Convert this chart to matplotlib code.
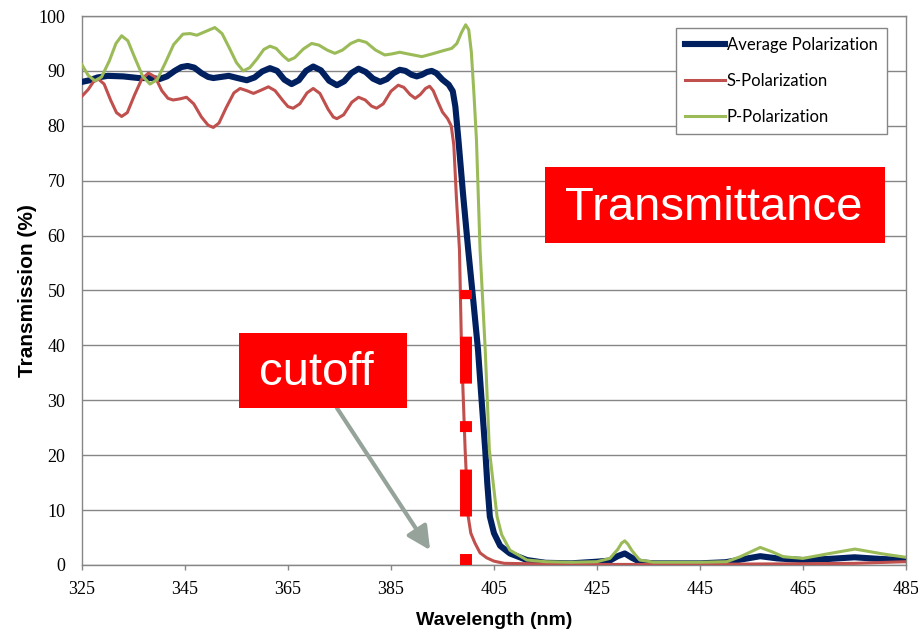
import matplotlib
matplotlib.use('Agg')
import matplotlib.pyplot as plt
from matplotlib.patches import Rectangle

plt.rcParams['lines.scale_dashes'] = False

# Average polarization
avg_nm = [325, 326.5, 328, 330, 333, 336, 338.5, 340, 341.5, 343, 344.3, 345.5, 346.8, 348.2,
          349.5, 350.5, 352, 353.5, 355.2, 357, 358.5, 360, 361.5, 362.9, 364.3, 365.7, 367.1,
          368.5, 369.9, 371.4, 373, 374.5, 375.9, 377.3, 378.7, 380.1, 381.5, 382.9, 384.2,
          385.5, 386.7, 387.8, 389, 390, 391, 392, 392.9, 393.8, 395, 396.2, 397, 397.5,
          398.1, 399.0, 400.0, 401.0, 401.9, 402.6, 403.3, 403.7, 404.2, 405, 406.2, 408.1,
          411.4, 415, 420, 425, 427.5, 429, 430.4, 431.8, 433.5, 436, 445, 450, 453, 456.7,
          460, 465, 470, 475, 480, 485]
avg_t = [88.0, 88.3, 88.8, 89.1, 89.0, 88.7, 88.7, 88.5, 89.0, 90.0, 90.7, 90.9, 90.6, 89.6,
         88.9, 88.7, 88.9, 89.1, 88.7, 88.3, 88.8, 89.9, 90.5, 90.0, 88.4, 87.6, 88.3,
         90.0, 90.8, 90.1, 88.2, 87.4, 88.1, 89.6, 90.4, 89.8, 88.6, 88.0, 88.5,
         89.6, 90.2, 90.0, 89.3, 89.0, 89.3, 89.8, 90.0, 89.6, 88.4, 87.5, 86.3, 83.5,
         77.4, 67.5, 57.4, 48.0, 39.2, 30.0, 21.0, 14.9, 8.8, 5.8, 3.5, 2.1,
         0.9, 0.4, 0.3, 0.6, 0.8, 1.6, 2.1, 1.3, 0.5, 0.3, 0.3, 0.5, 1.0, 1.6,
         1.2, 0.9, 1.1, 1.4, 1.1, 0.9]

# S-polarization
s_nm = [325, 326.2, 327.2, 328.2, 329.3, 330.6, 331.7, 332.7, 333.8, 335.2, 336.6, 337.9,
        339.2, 340.5, 341.7, 342.7, 344, 345.3, 346.7, 348.2, 349.5, 350.5, 351.6, 353,
        354.5, 355.7, 357, 358.3, 359.8, 361.2, 362.5, 364, 365, 366, 367.3, 368.7, 369.9,
        371.2, 372.8, 373.8, 374.5, 375.8, 377.4, 378.7, 380, 381.2, 382.2, 383.5, 385,
        386.4, 387.5, 388.7, 389.7, 390.7, 391.7, 392.5, 393.2, 394, 395, 396, 396.7,
        397.2, 397.7, 398.3, 398.7, 399.4, 400.0, 400.5, 401.3, 402.3, 403.6, 405,
        407, 420, 440, 460, 475, 485]
s_t = [85.4, 86.6, 88.0, 88.5, 87.6, 84.6, 82.4, 81.7, 82.4, 85.6, 88.5, 89.6,
       88.9, 86.4, 85.0, 84.7, 84.9, 85.2, 84.0, 81.6, 80.1, 79.7, 80.5, 83.3,
       86.0, 86.8, 86.4, 85.9, 86.5, 87.1, 86.4, 84.6, 83.5, 83.2, 84.0, 86.0, 86.8,
       85.9, 83.0, 81.6, 81.3, 82.0, 84.3, 85.2, 84.7, 83.6, 83.2, 84.0, 86.3,
       87.4, 87.0, 85.7, 85.0, 85.7, 86.8, 87.2, 86.4, 84.6, 82.5, 81.3, 80.0,
       76.5, 67.0, 57.4, 39.2, 21.0, 8.8, 5.8, 4.0, 2.2, 1.3, 0.7,
       0.3, 0.1, 0.1, 0.2, 0.3, 0.6]

# P-polarization
p_nm = [325, 326.2, 327.5, 328.8, 330.3, 331.6, 332.7, 333.9, 335.3, 336.8, 338.2, 339.6,
        341.2, 342.8, 344.6, 346, 347.3, 348.8, 350.8, 352.2, 353.6, 355, 356.3, 357.6,
        359, 360.3, 361.5, 362.7, 364, 365.1, 366.3, 368, 369.6, 371, 372.6, 374.1, 375.6,
        377.2, 378.7, 380.2, 382, 383.8, 385.2, 386.7, 388.8, 391, 393, 395.2, 396.8,
        397.8, 398.7, 399.5, 400.1, 400.6, 401.1, 401.6, 402.3, 403.3, 404.1, 405.6,
        406.5, 408.1, 411.4, 415, 420, 425, 427.5, 429, 429.8, 430.4, 431, 431.8, 433.3,
        436, 445, 450.2, 452.8, 456.7, 459, 461.2, 465, 470.2, 475.1, 480.6, 485]
p_t = [91.1, 89.2, 88.2, 88.9, 91.8, 95.0, 96.4, 95.5, 92.3, 89.0, 87.6, 88.4,
       91.5, 94.8, 96.7, 96.8, 96.5, 97.1, 97.9, 96.8, 94.2, 91.5, 90.0, 90.6,
       92.2, 93.9, 94.5, 94.1, 92.8, 91.9, 92.4, 94.0, 95.0, 94.7, 93.8, 93.2, 93.8,
       95.0, 95.6, 95.2, 93.8, 92.9, 93.1, 93.4, 93.0, 92.6, 93.1, 93.7, 94.1,
       95.0, 97.0, 98.4, 97.5, 93.5, 86.0, 77.4, 57.4, 39.2, 21.0, 8.8,
       5.5, 2.7, 0.9, 0.6, 0.5, 0.6, 1.2, 2.8, 4.0, 4.4, 3.8, 2.6, 0.9,
       0.5, 0.5, 0.6, 1.5, 3.2, 2.4, 1.5, 1.2, 2.1, 2.9, 2.0, 1.4]

x_ticks = list(range(325, 486, 20))
y_ticks = list(range(0, 101, 10))
cutoff_nm = 399.5
cutoff_top = 50
arrow_from = (374.5, 28.6)
arrow_to = (392.6, 2.7)

fig = plt.figure(figsize=(9.18, 6.3), dpi=100)
ax = fig.add_axes([0.0893, 0.1032, 0.8976, 0.8714])

ax.plot(avg_nm, avg_t, color='#002060', lw=4.4, label='Average Polarization', zorder=3,
        solid_joinstyle='round')
ax.plot(s_nm, s_t, color='#C0504D', lw=2.2, label='S-Polarization', zorder=4,
        solid_joinstyle='round')
ax.plot(p_nm, p_t, color='#9BBB59', lw=2.2, label='P-Polarization', zorder=5,
        solid_joinstyle='round')

# cutoff marker
ax.plot([cutoff_nm, cutoff_nm], [0, cutoff_top], color='#FF0000', lw=8.6,
        dashes=[7.9, 27, 33.8, 27], solid_capstyle='butt', dash_capstyle='butt',
        zorder=6, clip_on=False)

ax.set_xlim(325, 485)
ax.set_ylim(0, 100)
ax.set_xticks(x_ticks)
ax.set_yticks(y_ticks)
ax.grid(axis='y', color='#868686', lw=1.0)
ax.set_axisbelow(True)
for side in ['left', 'right', 'top', 'bottom']:
    ax.spines[side].set_color('#868686')
    ax.spines[side].set_linewidth(1.0)
ax.tick_params(axis='x', direction='out', length=3.6, width=1.0, color='#868686', pad=8)
ax.tick_params(axis='y', length=0, pad=12)
for lab in ax.get_xticklabels() + ax.get_yticklabels():
    lab.set_family('Liberation Serif')
    lab.set_fontsize(13)

ax.set_xlabel('Wavelength (nm)', family='Liberation Sans', fontsize=14, fontweight='bold',
              labelpad=10)
ax.set_ylabel('Transmission (%)', family='Liberation Sans', fontsize=15, fontweight='bold',
              labelpad=1)

leg = ax.legend(loc='upper right', bbox_to_anchor=(0.977, 0.978), borderaxespad=0,
                fancybox=False, framealpha=1, edgecolor='#868686',
                prop={'family': 'Lato', 'size': 12},
                handlelength=2.4, handletextpad=0.1, labelspacing=1.18, borderpad=0.55)
leg.get_frame().set_linewidth(1.0)

# arrow pointing at the cutoff
ax.annotate('', xy=arrow_to, xytext=arrow_from,
            arrowprops=dict(arrowstyle='-|>,head_length=0.7,head_width=0.35', color='#95A39A',
                            lw=3, mutation_scale=20, shrinkA=0, shrinkB=0), zorder=7)

# red label boxes
fig.patches.append(Rectangle((0.5937, 0.6143), 0.3704, 0.1206, transform=fig.transFigure,
                             facecolor='#FF0000', edgecolor='none', zorder=10))
fig.text(0.7778, 0.6698, 'Transmittance', color='white', fontsize=34, family='Liberation Sans',
         ha='center', va='center', zorder=11)
fig.patches.append(Rectangle((0.2603, 0.3524), 0.183, 0.119, transform=fig.transFigure,
                             facecolor='#FF0000', edgecolor='none', zorder=10))
fig.text(0.3448, 0.408, 'cutoff', color='white', fontsize=34, family='Liberation Sans',
         ha='center', va='center', zorder=11)

fig.savefig('out.png', dpi=100)
